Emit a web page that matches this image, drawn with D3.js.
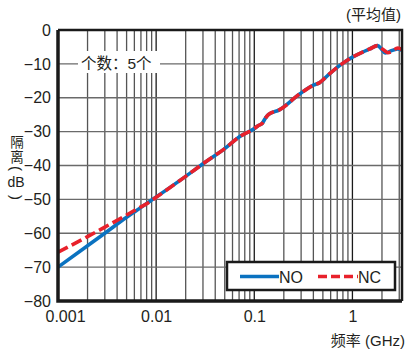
<!DOCTYPE html>
<html>
<head>
<meta charset="utf-8">
<script src="https://cdn.jsdelivr.net/npm/d3@7"></script>
<style>
  body { margin: 0; background: #fff; }
  svg text { font-family: "Liberation Sans", Arial, "Noto Sans CJK SC", sans-serif; fill: #231f20; }
</style>
</head>
<body>
<div id="chart"></div>
<script>
// frequency points (GHz) and isolation (dB)
const freqs = [0.001, 0.002, 0.003, 0.005, 0.006, 0.0085, 0.01, 0.02, 0.031, 0.05, 0.07, 0.1, 0.11, 0.12, 0.13, 0.14, 0.18, 0.29, 0.4, 0.46, 0.58, 0.74, 1.0, 1.27, 1.5, 1.8, 2.0, 2.15, 2.3, 2.5, 2.9, 3.2];
const noValues = [-70, -63.7, -60, -55.3, -53.7, -50.7, -49.3, -43.2, -39.2, -35.0, -31.6, -29.1, -28.2, -27.6, -26.0, -24.9, -23.6, -18.9, -16.3, -15.6, -13, -10.5, -8.0, -6.5, -5.6, -4.6, -5.8, -6.8, -6.6, -6.1, -5.6, -6.0];
const ncValues = [-65.6, -61.0, -58.2, -54.6, -53.3, -50.8, -49.4, -43.2, -39.2, -35.0, -31.6, -29.1, -28.2, -27.6, -26.0, -24.9, -23.6, -18.9, -16.3, -15.6, -13, -10.5, -8.0, -6.5, -5.6, -4.6, -5.5, -6.2, -6.7, -6.4, -5.3, -5.8];

const xTicks = [0.001, 0.01, 0.1, 1];
const xTickLabels = ["0.001", "0.01", "0.1", "1"];
const yTicks = [0, -10, -20, -30, -40, -50, -60, -70, -80];
const seriesNames = ["NO", "NC"];

const W = 406, H = 352;
const pLeft = 58, pRight = 402, pTop = 30, pBottom = 301;

const svg = d3.select("#chart").append("svg")
  .attr("width", W).attr("height", H);

const x = d3.scaleLog().domain([0.001, 3.2]).range([pLeft, pRight]);
const y = d3.scaleLinear().domain([-80, 0]).range([pBottom, pTop]);

// vertical grid: every 1..9 of each decade
const minor = [];
[0.001, 0.01, 0.1, 1].forEach(d => {
  for (let k = 1; k <= 9; k++) {
    const v = d * k;
    if (v <= 3.2) minor.push(v);
  }
});
svg.append("g").selectAll("line")
  .data(minor)
  .enter().append("line")
  .attr("x1", d => x(d)).attr("x2", d => x(d))
  .attr("y1", pTop).attr("y2", pBottom)
  .attr("stroke", d => xTicks.includes(d) ? "#1a1a1a" : "#555")
  .attr("stroke-width", 1.3);

// horizontal grid
svg.append("g").selectAll("line")
  .data(yTicks)
  .enter().append("line")
  .attr("x1", pLeft).attr("x2", pRight)
  .attr("y1", d => y(d)).attr("y2", d => y(d))
  .attr("stroke", "#6a6a6a")
  .attr("stroke-width", 1.3);

// annotation box
svg.append("rect")
  .attr("x", 78).attr("y", 51).attr("width", 82).attr("height", 22)
  .attr("fill", "#fff");
svg.append("text")
  .attr("x", 81).attr("y", 68.5)
  .attr("font-size", 15.5)
  .text("个数：5个");

// curves
const line = d3.line()
  .x(d => x(d[0]))
  .y(d => y(d[1]))
  .curve(d3.curveMonotoneX);

svg.append("path")
  .datum(freqs.map((f, i) => [f, noValues[i]]))
  .attr("fill", "none")
  .attr("stroke", "#0a72c0")
  .attr("stroke-width", 3.6)
  .attr("d", line);

svg.append("path")
  .datum(freqs.map((f, i) => [f, ncValues[i]]))
  .attr("fill", "none")
  .attr("stroke", "#e8212b")
  .attr("stroke-width", 3.6)
  .attr("stroke-dasharray", "11,4.5")
  .attr("d", line);

// frame
svg.append("path")
  .attr("d", `M${pLeft},${pTop}H${pRight}V${pBottom}`)
  .attr("fill", "none").attr("stroke", "#1a1a1a").attr("stroke-width", 2.5);
svg.append("path")
  .attr("d", `M${pLeft},${pTop}V${pBottom}H${pRight}`)
  .attr("fill", "none").attr("stroke", "#1a1a1a").attr("stroke-width", 3.5);

// axes labels
const yAxis = d3.axisLeft(y).tickValues(yTicks).tickSize(0).tickPadding(7);
const gy = svg.append("g").attr("transform", `translate(${pLeft},0)`).call(yAxis);
gy.select(".domain").remove();
gy.selectAll("text").attr("font-size", 16).style("font-family", "Liberation Sans, Arial, sans-serif").attr("fill", "#231f20");

const xAxis = d3.axisBottom(x).tickValues(xTicks).tickSize(0).tickPadding(10)
  .tickFormat((d, i) => xTickLabels[i]);
const gx = svg.append("g").attr("transform", `translate(0,${pBottom})`).call(xAxis);
gx.select(".domain").remove();
gx.selectAll("text").attr("font-size", 16).style("font-family", "Liberation Sans, Arial, sans-serif").attr("fill", "#231f20");
gx.selectAll("text").filter(d => d === 0.001).attr("dx", 7);

// titles
svg.append("text")
  .attr("x", 401).attr("y", 20)
  .attr("text-anchor", "end")
  .attr("font-size", 15)
  .text("(平均值)");

svg.append("text")
  .attr("x", 405).attr("y", 346)
  .attr("text-anchor", "end")
  .attr("font-size", 15)
  .text("频率 (GHz)");

// vertical y label: 隔离 (dB), parentheses turned sideways
const yl = svg.append("g").attr("text-anchor", "middle");
yl.append("text").attr("x", 17).attr("y", 146.5).attr("font-size", 13.5).text("隔");
yl.append("text").attr("x", 17).attr("y", 162).attr("font-size", 13.5).text("离");
yl.append("text").attr("font-size", 15).attr("dominant-baseline", "central")
  .attr("transform", "translate(16,168.5) rotate(90)").text("(");
yl.append("text").attr("x", 16).attr("y", 187).attr("font-size", 14).text("dB");
yl.append("text").attr("font-size", 15).attr("dominant-baseline", "central")
  .attr("transform", "translate(16,197.5) rotate(90)").text(")");

// legend
const lg = svg.append("g");
lg.append("rect")
  .attr("x", 227).attr("y", 262).attr("width", 168).attr("height", 28)
  .attr("fill", "#fff").attr("stroke", "#1a1a1a").attr("stroke-width", 2.5);
lg.append("line")
  .attr("x1", 240).attr("x2", 279).attr("y1", 276.5).attr("y2", 276.5)
  .attr("stroke", "#0a72c0").attr("stroke-width", 3.6);
lg.append("text").attr("x", 279).attr("y", 282.5).attr("font-size", 16).text(seriesNames[0]);
lg.append("line")
  .attr("x1", 318).attr("x2", 358).attr("y1", 276.5).attr("y2", 276.5)
  .attr("stroke", "#e8212b").attr("stroke-width", 3.6).attr("stroke-dasharray", "9,4");
lg.append("text").attr("x", 358).attr("y", 282.5).attr("font-size", 16).text(seriesNames[1]);
</script>
</body>
</html>
